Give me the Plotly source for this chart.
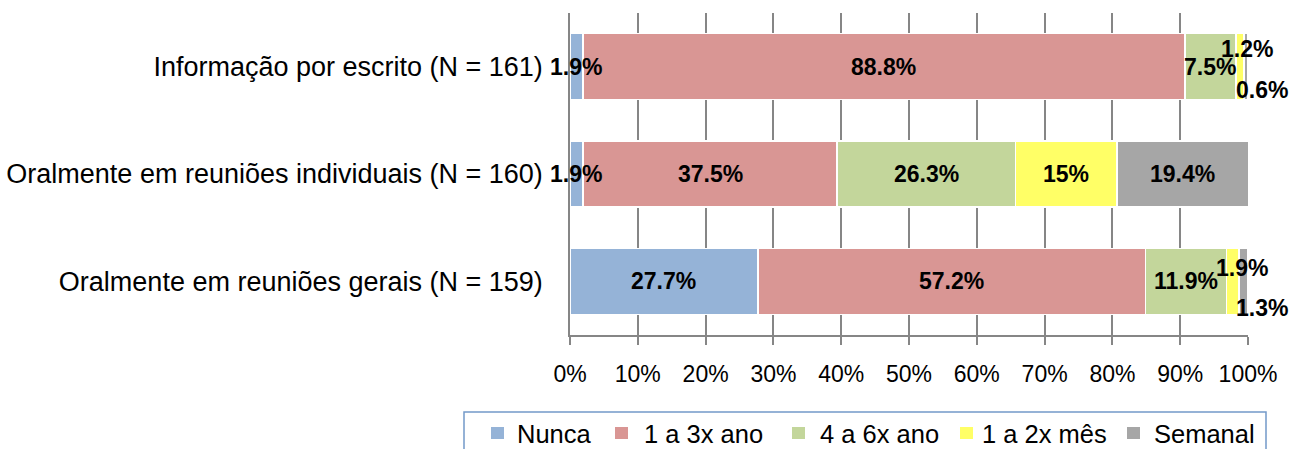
import plotly.graph_objects as go

categories = [
    "Oralmente em reuniões gerais (N = 159)",
    "Oralmente em reuniões individuais (N = 160)",
    "Informação por escrito (N = 161)",
]
series_names = ["Nunca", "1 a 3x ano", "4 a 6x ano", "1 a 2x mês", "Semanal"]
nunca = [27.7, 1.9, 1.9]
ano_1a3 = [57.2, 37.5, 88.8]
ano_4a6 = [11.9, 26.3, 7.5]
mes_1a2 = [1.9, 15, 1.2]
semanal = [1.3, 19.4, 0.6]
tick_values = [0, 10, 20, 30, 40, 50, 60, 70, 80, 90, 100]
tick_labels = ["0%", "10%", "20%", "30%", "40%", "50%", "60%", "70%", "80%", "90%", "100%"]

colors = ["#95B3D7", "#D99694", "#C3D69B", "#FFFF66", "#A6A6A6"]
series = [nunca, ano_1a3, ano_4a6, mes_1a2, semanal]

FONT = "Liberation Sans"
W, H = 1292, 449
M_L, M_R, M_T, M_B = 570, 44, 13, 114
PLOT_W = W - M_L - M_R
PLOT_H = H - M_T - M_B


def px_x(px):
    """pixel column -> paper x"""
    return (px - M_L) / PLOT_W


def px_y(py):
    """pixel row (from top) -> paper y"""
    return (H - M_B - py) / PLOT_H


fig = go.Figure()
for name, vals, col in zip(series_names, series, colors):
    fig.add_trace(go.Bar(
        y=categories, x=vals, name=name, orientation="h",
        marker=dict(color=col, line=dict(color="white", width=1.5)),
        hoverinfo="x+name", showlegend=False,
    ))

# value labels; the thinnest segments get their labels pushed above/below
nudges = {
    (2, 3): (7, -18),    # 1.2%
    (2, 4): (16, 23),    # 0.6%
    (0, 3): (9, -13),    # 1.9%
    (0, 4): (18, 27),    # 1.3%
}
for ci, cat in enumerate(categories):
    left = 0.0
    for si, vals in enumerate(series):
        v = vals[ci]
        dx, dy = nudges.get((ci, si), (0, 0))
        fig.add_annotation(
            x=left + v / 2, y=cat, xref="x", yref="y", text=f"{v:g}%",
            showarrow=False, xshift=dx, yshift=-dy,
            font=dict(family=FONT, size=23, color="black", weight="bold"),
        )
        left += v

# legend box with coloured keys underneath the chart
legend_box = (464, 412, 1266, 470)
key_x = [491, 615, 792, 960, 1127]
text_x = [515, 642, 818, 980, 1152]
key_cy = 433
fig.add_shape(
    type="rect", xref="paper", yref="paper",
    x0=px_x(legend_box[0]), x1=px_x(legend_box[2]),
    y0=px_y(legend_box[1]), y1=px_y(legend_box[3]),
    line=dict(color="#7399C9", width=1.5), fillcolor="white", layer="below",
)
for name, col, kx, tx in zip(series_names, colors, key_x, text_x):
    fig.add_shape(
        type="rect", xref="paper", yref="paper",
        x0=px_x(kx), x1=px_x(kx + 13), y0=px_y(key_cy - 6), y1=px_y(key_cy + 6),
        line=dict(width=0), fillcolor=col,
    )
    fig.add_annotation(
        x=px_x(tx), y=px_y(key_cy + 1), xref="paper", yref="paper",
        xanchor="left", yanchor="middle", text=name, showarrow=False,
        font=dict(family=FONT, size=25.5, color="black"),
    )

fig.update_layout(
    width=W, height=H,
    margin=dict(l=M_L, r=M_R, t=M_T, b=M_B),
    paper_bgcolor="white", plot_bgcolor="white",
    barmode="stack", bargap=0.385,
    font=dict(family=FONT, size=20, color="black"),
    showlegend=False,
    xaxis=dict(
        range=[0, 100], tickvals=tick_values, ticktext=tick_labels,
        showgrid=True, gridcolor="#868686", gridwidth=1.5,
        showline=True, linecolor="#868686", linewidth=1.5,
        ticks="outside", ticklen=8, tickcolor="#868686", tickwidth=1.5,
        tickfont=dict(family=FONT, size=23), zeroline=False,
        ticklabelstandoff=10, automargin=False,
    ),
    yaxis=dict(
        showline=True, linecolor="#868686", linewidth=1.5,
        ticks="", tickfont=dict(family=FONT, size=27),
        ticklabelstandoff=20, automargin=False,
    ),
)

fig.write_html("out.html")
